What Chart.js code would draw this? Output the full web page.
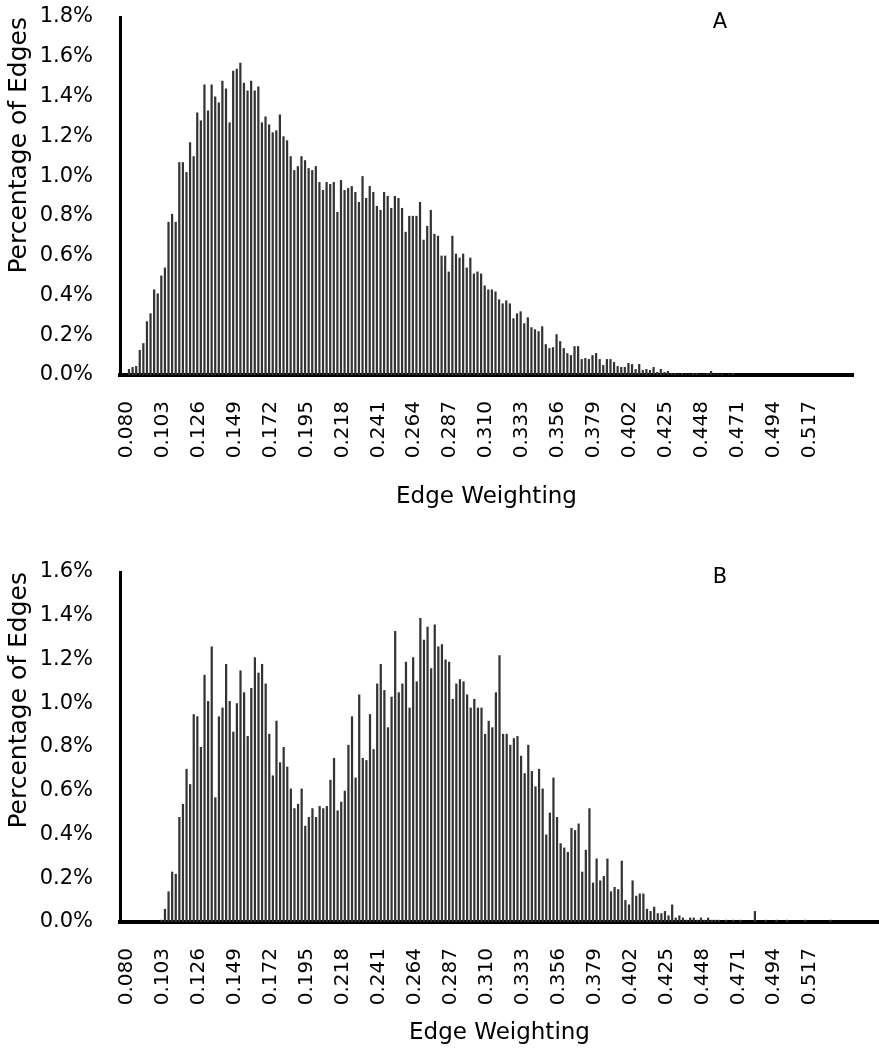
<!DOCTYPE html>
<html>
<head>
<meta charset="utf-8">
<script src="https://cdn.jsdelivr.net/npm/chart.js@4.4.1/dist/chart.umd.min.js"></script>
<style>
  html, body { margin: 0; padding: 0; background: #fff; }
  #wrap { position: relative; width: 879px; height: 1050px; }
  .panel { position: absolute; left: 0; }
</style>
</head>
<body>
<div id="wrap">
  <div class="panel" style="top:0px"><canvas id="chartA" width="879" height="520"></canvas></div>
  <div class="panel" style="top:540px"><canvas id="chartB" width="879" height="510"></canvas></div>
</div>
<script>
// tick labels shown on the x axis (every 10th bin)
const tickLabels = ['0.080','0.103','0.126','0.149','0.172','0.195','0.218','0.241','0.264','0.287',
                    '0.310','0.333','0.356','0.379','0.402','0.425','0.448','0.471','0.494','0.517']

// percentage of edges per bin, panel A
const valuesA = [
  0, 0, 0.03, 0.04, 0.045, 0.126, 0.16, 0.27, 0.31, 0.43,
  0.41, 0.50, 0.54, 0.77, 0.81, 0.77, 1.07, 1.07, 1.02, 1.17,
  1.10, 1.32, 1.28, 1.46, 1.33, 1.46, 1.40, 1.37, 1.48, 1.44,
  1.27, 1.53, 1.54, 1.57, 1.47, 1.43, 1.48, 1.43, 1.45, 1.27,
  1.30, 1.26, 1.22, 1.23, 1.31, 1.20, 1.18, 1.10, 1.03, 1.05,
  1.10, 1.08, 1.04, 1.03, 1.05, 0.97, 0.93, 0.97, 0.96, 0.97,
  0.82, 0.98, 0.93, 0.94, 0.95, 0.92, 0.87, 1.00, 0.89, 0.95,
  0.92, 0.85, 0.83, 0.92, 0.90, 0.84, 0.90, 0.89, 0.84, 0.72,
  0.80, 0.80, 0.80, 0.87, 0.68, 0.75, 0.83, 0.71, 0.70, 0.60,
  0.60, 0.52, 0.70, 0.61, 0.59, 0.61, 0.54, 0.59, 0.51, 0.52,
  0.51, 0.45, 0.43, 0.43, 0.42, 0.38, 0.36, 0.375, 0.36, 0.285,
  0.31, 0.32, 0.26, 0.29, 0.24, 0.23, 0.22, 0.245, 0.155, 0.135,
  0.14, 0.205, 0.17, 0.135, 0.11, 0.10, 0.145, 0.145, 0.08, 0.085,
  0.08, 0.10, 0.11, 0.08, 0.05, 0.08, 0.08, 0.065, 0.045, 0.04,
  0.04, 0.06, 0.055, 0.03, 0.055, 0.025, 0.03, 0.025, 0.04, 0.015,
  0.03, 0.015, 0.02, 0.01, 0.01, 0.005, 0.01, 0.005, 0.005, 0.01,
  0.01, 0.005, 0.005, 0.01, 0.02, 0.005, 0.005, 0.005, 0, 0.005,
  0.01, 0, 0, 0, 0, 0, 0, 0, 0, 0,
  0, 0, 0, 0, 0, 0, 0, 0, 0, 0,
  0, 0, 0, 0, 0, 0, 0, 0, 0, 0,
  0, 0, 0, 0
]

// percentage of edges per bin, panel B (axis runs a few bins longer)
const valuesB = [
  0, 0, 0, 0, 0, 0, 0, 0, 0, 0,
  0, 0.01, 0.06, 0.14, 0.23, 0.22, 0.48, 0.54, 0.70, 0.63,
  0.95, 0.94, 0.80, 1.13, 1.01, 1.26, 0.57, 0.94, 0.98, 1.18,
  1.01, 0.87, 1.00, 1.15, 1.05, 0.85, 1.07, 1.21, 1.14, 1.18,
  1.09, 0.86, 0.67, 0.92, 0.73, 0.80, 0.71, 0.61, 0.52, 0.54,
  0.61, 0.44, 0.48, 0.52, 0.48, 0.53, 0.52, 0.53, 0.65, 0.75,
  0.51, 0.55, 0.60, 0.81, 0.94, 0.66, 1.04, 0.75, 0.74, 0.95,
  0.79, 1.09, 1.18, 1.06, 0.89, 1.03, 1.33, 1.05, 1.09, 1.19,
  0.98, 1.21, 1.10, 1.39, 1.29, 1.35, 1.16, 1.36, 1.26, 1.27,
  1.20, 1.19, 1.02, 1.09, 1.11, 1.10, 1.04, 0.98, 1.02, 0.98,
  0.98, 0.86, 0.92, 0.89, 1.05, 1.22, 0.86, 0.86, 0.81, 0.84,
  0.85, 0.76, 0.68, 0.81, 0.69, 0.62, 0.70, 0.61, 0.40, 0.50,
  0.66, 0.48, 0.36, 0.34, 0.32, 0.43, 0.42, 0.45, 0.23, 0.33,
  0.52, 0.18, 0.29, 0.19, 0.21, 0.29, 0.14, 0.16, 0.15, 0.28,
  0.10, 0.08, 0.19, 0.12, 0.13, 0.13, 0.06, 0.05, 0.07, 0.04,
  0.04, 0.05, 0.03, 0.08, 0.02, 0.03, 0.02, 0.01, 0.02, 0.02,
  0.01, 0.02, 0.01, 0.02, 0.01, 0.01, 0.01, 0, 0.01, 0,
  0.01, 0, 0.01, 0, 0, 0, 0.05, 0, 0, 0.01,
  0, 0, 0.01, 0, 0, 0.01, 0, 0, 0, 0,
  0.01, 0, 0, 0, 0, 0, 0, 0.01, 0, 0,
  0, 0, 0, 0, 0, 0, 0, 0, 0, 0,
  0
]

const FONT = 'DejaVu Sans'

// category names: only every 10th bin gets a visible label
function makeCategories(n){
    let cats = []
    for(let i = 0; i < n; i++){
        cats.push(i % 10 == 0 && tickLabels[i / 10] ? tickLabels[i / 10] : '')
    }
    return cats
}

// draws the panel letter (A / B) inside the plot area
const panelLetter = {
    id: 'panelLetter',
    afterDraw(chart, args, opts){
        let ctx = chart.ctx
        ctx.save()
        ctx.font = '21px "' + FONT + '"'
        ctx.fillStyle = '#000'
        ctx.textAlign = 'center'
        ctx.textBaseline = 'middle'
        ctx.fillText(opts.text, chart.chartArea.left + 600, chart.chartArea.top + 6)
        ctx.restore()
    }
}

function drawHistogram(id, values, yMax, letter, layout){
    let ctx = document.getElementById(id).getContext('2d')
    return new Chart(ctx, {
        type: 'bar',
        data: {
            labels: makeCategories(values.length),
            datasets: [{
                data: values,
                backgroundColor: '#333333',
                borderWidth: 0,
                barPercentage: 0.62,
                categoryPercentage: 1
            }]
        },
        plugins: [panelLetter],
        options: {
            responsive: false,
            animation: false,
            layout: { padding: { top: layout.top, right: layout.right, bottom: 0, left: 0 } },
            plugins: {
                legend: { display: false },
                tooltip: { enabled: false },
                panelLetter: { text: letter }
            },
            scales: {
                x: {
                    grid: { display: false, drawTicks: false },
                    border: { display: true, color: '#000', width: 4 },
                    ticks: {
                        autoSkip: false,
                        minRotation: 90,
                        maxRotation: 90,
                        padding: 26,
                        labelOffset: 5,
                        color: '#000',
                        font: { family: FONT, size: 20 }
                    },
                    title: {
                        display: true,
                        text: 'Edge Weighting',
                        color: '#000',
                        font: { family: FONT, size: 23 },
                        padding: { top: 0, bottom: layout.titleBottom }
                    },
                    afterFit(scale){
                        // fixed axis band, no extra side padding
                        scale.height = layout.xHeight
                        scale.paddingLeft = 0
                        scale.paddingRight = 0
                    }
                },
                y: {
                    min: 0,
                    max: yMax,
                    grid: { display: false, drawTicks: false },
                    border: { display: true, color: '#000', width: 3 },
                    ticks: {
                        stepSize: 0.2,
                        padding: 27,
                        color: '#000',
                        font: { family: FONT, size: 21 },
                        callback: v => v.toFixed(1) + '%'
                    },
                    title: {
                        display: true,
                        text: 'Percentage of Edges',
                        align: 'end',
                        color: '#000',
                        font: { family: FONT, size: 25 },
                        padding: { top: 4, bottom: 0 }
                    },
                    afterFit(scale){
                        scale.width = 120
                        scale.paddingTop = 0
                        scale.paddingBottom = 0
                    }
                }
            }
        }
    })
}

drawHistogram('chartA', valuesA, 1.8, 'A', { top: 17, right: 26, xHeight: 145, titleBottom: 9 })
drawHistogram('chartB', valuesB, 1.6, 'B', { top: 32, right: 0, xHeight: 128, titleBottom: 3 })
</script>
</body>
</html>
